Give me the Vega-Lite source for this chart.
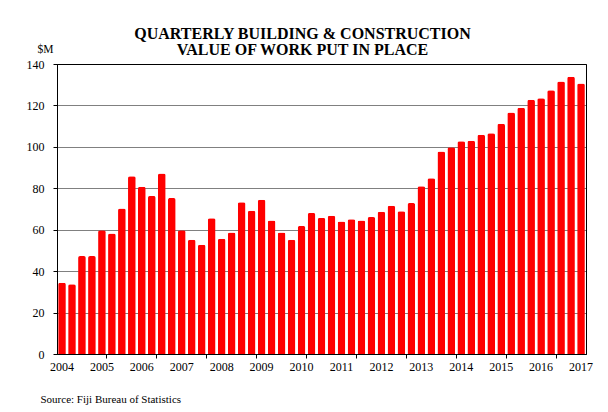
{
  "$schema": "https://vega.github.io/schema/vega-lite/v6.json",
  "width": 529,
  "height": 290,
  "autosize": {"type": "none"},
  "padding": {"left": 57, "top": 64, "right": 22, "bottom": 58},
  "background": "white",
  "title": {
    "text": ["QUARTERLY BUILDING & CONSTRUCTION", "VALUE OF WORK PUT IN PLACE"],
    "font": "Liberation Serif",
    "fontSize": 16,
    "fontWeight": "bold",
    "color": "black",
    "lineHeight": 16,
    "anchor": "middle",
    "frame": "group",
    "dx": -19,
    "dy": 17,
    "offset": 2
  },
  "data": {
    "values": [
      {"quarter": "2004Q1", "value": 34.4},
      {"quarter": "2004Q2", "value": 33.7},
      {"quarter": "2004Q3", "value": 47.3},
      {"quarter": "2004Q4", "value": 47.3},
      {"quarter": "2005Q1", "value": 59.7},
      {"quarter": "2005Q2", "value": 58.2},
      {"quarter": "2005Q3", "value": 70.2},
      {"quarter": "2005Q4", "value": 85.8},
      {"quarter": "2006Q1", "value": 80.8},
      {"quarter": "2006Q2", "value": 76.3},
      {"quarter": "2006Q3", "value": 87.1},
      {"quarter": "2006Q4", "value": 75.3},
      {"quarter": "2007Q1", "value": 59.8},
      {"quarter": "2007Q2", "value": 55.2},
      {"quarter": "2007Q3", "value": 52.7},
      {"quarter": "2007Q4", "value": 65.5},
      {"quarter": "2008Q1", "value": 55.6},
      {"quarter": "2008Q2", "value": 58.7},
      {"quarter": "2008Q3", "value": 73.2},
      {"quarter": "2008Q4", "value": 69.2},
      {"quarter": "2009Q1", "value": 74.5},
      {"quarter": "2009Q2", "value": 64.5},
      {"quarter": "2009Q3", "value": 58.7},
      {"quarter": "2009Q4", "value": 55.2},
      {"quarter": "2010Q1", "value": 61.8},
      {"quarter": "2010Q2", "value": 68.1},
      {"quarter": "2010Q3", "value": 65.7},
      {"quarter": "2010Q4", "value": 66.7},
      {"quarter": "2011Q1", "value": 64.0},
      {"quarter": "2011Q2", "value": 65.0},
      {"quarter": "2011Q3", "value": 64.5},
      {"quarter": "2011Q4", "value": 66.1},
      {"quarter": "2012Q1", "value": 68.7},
      {"quarter": "2012Q2", "value": 71.6},
      {"quarter": "2012Q3", "value": 68.9},
      {"quarter": "2012Q4", "value": 72.9},
      {"quarter": "2013Q1", "value": 81.0},
      {"quarter": "2013Q2", "value": 84.8},
      {"quarter": "2013Q3", "value": 97.7},
      {"quarter": "2013Q4", "value": 99.8},
      {"quarter": "2014Q1", "value": 102.7},
      {"quarter": "2014Q2", "value": 102.9},
      {"quarter": "2014Q3", "value": 105.8},
      {"quarter": "2014Q4", "value": 106.6},
      {"quarter": "2015Q1", "value": 111.1},
      {"quarter": "2015Q2", "value": 116.6},
      {"quarter": "2015Q3", "value": 118.9},
      {"quarter": "2015Q4", "value": 122.7},
      {"quarter": "2016Q1", "value": 123.5},
      {"quarter": "2016Q2", "value": 127.3},
      {"quarter": "2016Q3", "value": 131.6},
      {"quarter": "2016Q4", "value": 133.9},
      {"quarter": "2017Q1", "value": 130.6}
    ]
  },
  "mark": {
    "type": "bar",
    "color": "#ff0000",
    "width": {"band": 0.77},
    "cornerRadiusTopLeft": 2,
    "cornerRadiusTopRight": 2
  },
  "encoding": {
    "x": {
      "field": "quarter",
      "type": "ordinal",
      "sort": null,
      "scale": {"paddingInner": 0, "paddingOuter": 0},
      "axis": {
        "title": "Source: Fiji Bureau of Statistics",
        "titleX": -17,
        "titleY": 48,
        "titleAlign": "left",
        "titleBaseline": "alphabetic",
        "titleFont": "Liberation Serif",
        "titleFontSize": 11,
        "titleFontWeight": "normal",
        "titleColor": "black",
        "values": ["2004Q1", "2005Q1", "2005Q2", "2006Q1", "2006Q3", "2007Q1", "2007Q4", "2008Q1", "2009Q1", "2010Q1", "2010Q2", "2011Q1", "2011Q3", "2012Q1", "2012Q4", "2013Q1", "2014Q1", "2015Q1", "2015Q2", "2016Q1", "2016Q3", "2017Q1"],
        "bandPosition": 0,
        "labelOffset": 0,
        "labelExpr": "slice(datum.value, 4) == 'Q1' ? slice(datum.value, 0, 4) : ''",
        "labelAngle": 0,
        "labelFont": "Liberation Serif",
        "labelFontSize": 12,
        "labelColor": "black",
        "labelPadding": 3,
        "labelOverlap": false,
        "tickSize": 4,
        "tickColor": {
          "condition": {
            "test": "indexof(['2005Q2','2006Q3','2007Q4','2009Q1','2010Q2','2011Q3','2012Q4','2014Q1','2015Q2','2016Q3'], datum.value) >= 0",
            "value": "black"
          },
          "value": "transparent"
        },
        "domainColor": "black",
        "domainWidth": 1,
        "grid": false,
        "zindex": 1
      }
    },
    "y": {
      "field": "value",
      "type": "quantitative",
      "scale": {"domain": [0, 140], "nice": false},
      "axis": {
        "title": "$M",
        "titleAngle": 0,
        "titleX": -12,
        "titleY": -12,
        "titleAlign": "center",
        "titleBaseline": "alphabetic",
        "titleFont": "Liberation Serif",
        "titleFontSize": 11.5,
        "titleFontWeight": "normal",
        "titleColor": "black",
        "values": [0, 20, 40, 60, 80, 100, 120, 140],
        "labelFont": "Liberation Serif",
        "labelFontSize": 12,
        "labelColor": "black",
        "labelPadding": 9,
        "tickSize": 4,
        "tickColor": "black",
        "domainColor": "black",
        "domainWidth": 1,
        "grid": true,
        "gridColor": "black",
        "gridDash": [1, 1],
        "gridOpacity": 1,
        "gridWidth": 1
      }
    }
  },
  "config": {
    "view": {"stroke": "black", "strokeWidth": 1}
  }
}
